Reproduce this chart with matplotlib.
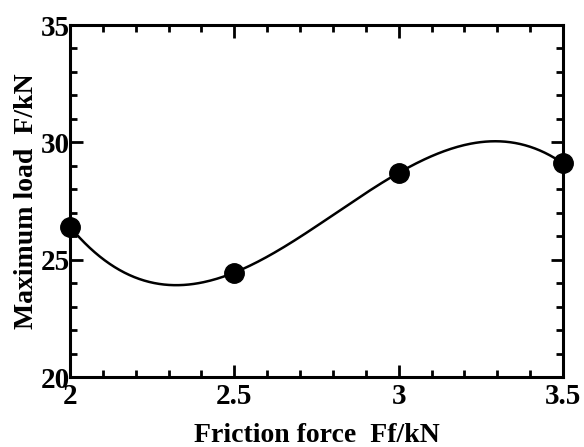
import numpy as np
import matplotlib
matplotlib.use("Agg")
import matplotlib.pyplot as plt
from matplotlib.ticker import MultipleLocator

friction_force = [2.0, 2.5, 3.0, 3.5]
max_load = [26.4, 24.45, 28.7, 29.1]

plt.rcParams['font.family'] = ['Liberation Serif', 'DejaVu Serif']
plt.rcParams['font.weight'] = 'bold'

fig = plt.figure(figsize=(5.84, 4.47), dpi=100)
ax = fig.add_axes([70/584, 1-377/447, (563-70)/584, (377-25)/447])

# cubic fit curve through the data
coef = np.polyfit(friction_force, max_load, 3)
xs = np.linspace(min(friction_force), max(friction_force), 300)
ax.plot(xs, np.polyval(coef, xs), color='black', lw=1.8)
ax.plot(friction_force, max_load, 'o', color='black', ms=14, clip_on=False, zorder=5)

ax.set_xlim(2, 3.5)
ax.set_ylim(20, 35)
ax.xaxis.set_minor_locator(MultipleLocator(0.1))
ax.yaxis.set_minor_locator(MultipleLocator(1))
ax.set_xticks([2, 2.5, 3, 3.5])
ax.set_xticklabels(['2', '2.5', '3', '3.5'])
ax.set_yticks([20, 25, 30, 35])
ax.set_yticklabels(['20', '25', '30', '35'])

for s in ax.spines.values():
    s.set_linewidth(2.2)
ax.tick_params(which='both', direction='in', top=True, right=True, width=2)
ax.tick_params(which='major', length=9, labelsize=21)
ax.tick_params(axis='x', which='major', pad=4)
ax.tick_params(axis='y', which='major', pad=0)
ax.tick_params(which='minor', length=5)

ax.set_xlabel('Friction force  Ff/kN', fontsize=20, fontweight='bold', labelpad=10)
ax.set_ylabel('Maximum load  F/kN', fontsize=20, fontweight='bold', labelpad=1)

fig.savefig('out.png', dpi=100)
